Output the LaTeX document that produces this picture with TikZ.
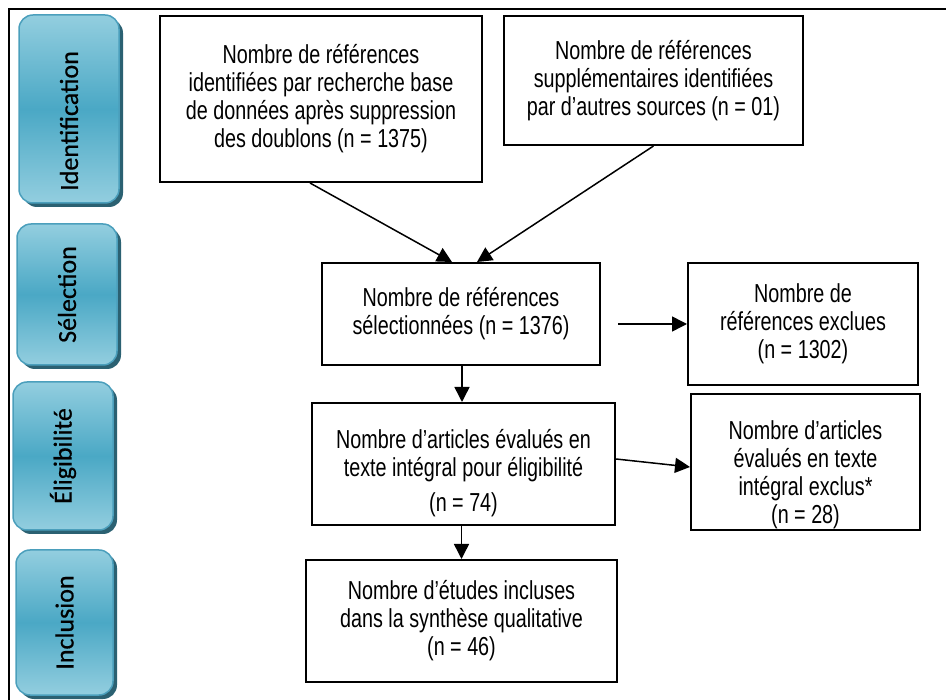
\documentclass[tikz,border=0pt]{standalone}
\usepackage{fontspec}
\setmainfont{Liberation Sans}[FakeStretch=0.76]
\newfontfamily\phasefont{Carlito}[FakeBold=0.6]
\usetikzlibrary{arrows.meta,shadows}

\definecolor{phaselight}{HTML}{93CEDF}
\definecolor{phasemid}{HTML}{4AA8C5}
\definecolor{phaseedge}{HTML}{4B9FBC}
\definecolor{phaseshadow}{HTML}{2B6172}

\begin{document}
\begin{tikzpicture}[x=1pt,y=-1pt,
  flowtext/.style={align=center, inner sep=0pt, font=\fontsize{26}{28}\selectfont},
  flowbox/.style={flowtext, draw=black, line width=2pt, fill=white},
  phase/.style={draw=phaseedge, line width=1.5pt, rounded corners=14pt,
    top color=phaselight, bottom color=phaselight, middle color=phasemid,
    inner sep=0pt, font=\phasefont\fontsize{26}{30}\selectfont,
    drop shadow={shadow xshift=4pt, shadow yshift=-4pt, fill=phaseshadow, opacity=1}},
  arr/.style={line width=1.5pt, -{Triangle[length=15pt,width=15pt]}}]

\useasboundingbox (0,0) rectangle (946,700);

% outer frame (top and left edges)
\draw[line width=2pt] (9,700) -- (9,9) -- (946,9);

% phase labels on the left
\node[phase, minimum width=100pt, minimum height=188pt] (idph) at (69,109)
  {\rotatebox{90}{Identification\hspace{24pt}}};
\node[phase, minimum width=100pt, minimum height=141pt] (selph) at (67,294.5)
  {\rotatebox{90}{Sélection}};
\node[phase, minimum width=100pt, minimum height=148pt] (eliph) at (63,456)
  {\rotatebox{90}{Éligibilité}};
\node[phase, minimum width=97pt, minimum height=145pt] (incph) at (64.5,622.5)
  {\rotatebox{90}{Inclusion}};

% flow boxes
\node[flowbox, minimum width=322pt, minimum height=166pt] (A) at (321,99)
  {Nombre de références\\identifiées par recherche base\\de données après suppression\\des doublons (n = 1375)};
\node[flowbox, minimum width=299pt, minimum height=129pt] (B) at (653.5,80.5)
  {Nombre de références\\supplémentaires identifiées\\par d’autres sources (n = 01)};
\node[flowbox, minimum width=278pt, minimum height=102pt] (C) at (461,314)
  {Nombre de références\\sélectionnées (n = 1376)};
\node[flowbox, minimum width=230pt, minimum height=122pt] (D) at (803,324)
  {Nombre de\\références exclues\\(n = 1302)};
\node[flowbox, minimum width=303pt, minimum height=122pt] (E) at (463.5,464) {};
\node[flowtext] (Etxt) at ([yshift=-9pt]E.center)
  {Nombre d’articles évalués en\\texte intégral pour éligibilité\\[7pt](n = 74)};
\node[flowbox, minimum width=229pt, minimum height=136pt] (F) at (805.5,462) {};
\node[flowtext] (Ftxt) at ([yshift=-13pt]F.center)
  {Nombre d’articles\\évalués en texte\\intégral exclus*\\(n = 28)};
\node[flowbox, minimum width=311pt, minimum height=122pt] (G) at (461.5,621)
  {Nombre d’études incluses\\dans la synthèse qualitative\\(n = 46)};

% connectors
\coordinate (cdtail) at (618,324);
\draw[arr] ([xshift=-11pt]A.south) -- ([xshift=-9pt]C.north);
\draw[arr] (B.south) -- ([xshift=16pt]C.north);
\draw[arr] (cdtail) -- (D.west);
\draw[arr] ([xshift=1pt]C.south) -- ([xshift=1pt]C.south |- E.north);
\draw[arr] ([yshift=5pt]E.east) -- ([yshift=-5pt]F.west);
\draw[arr] ([xshift=-2pt]E.south) -- ([xshift=-2pt]E.south |- G.north);
\end{tikzpicture}
\end{document}
